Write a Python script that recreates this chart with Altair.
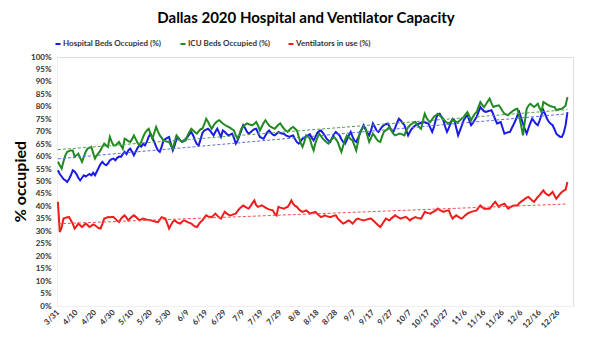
import json
import altair as alt
import pandas as pd

TITLE = "Dallas 2020 Hospital and Ventilator Capacity"
SERIES = ["Hospital Beds Occupied (%)", "ICU Beds Occupied (%)", "Ventilators in use (%)"]
COLORS = ["#1a1ae6", "#208a20", "#f01c1c"]
TREND_COLORS = ["#5a6fe0", "#4f9f4f", "#f05050"]
TICK_LABELS = ["3/31", "4/10", "4/20", "4/30", "5/10", "5/20", "5/30", "6/9", "6/19", "6/29",
               "7/9", "7/19", "7/29", "8/8", "8/18", "8/28", "9/7", "9/17", "9/27", "10/7",
               "10/17", "10/27", "11/6", "11/16", "11/26", "12/6", "12/16", "12/26"]
Y_TICKS = list(range(0, 101, 5))

# daily values, 3/31 .. 12/31
HOSPITAL = [
    54.5, 53, 52, 51, 50.5, 49.8, 51, 52.5, 54.5, 54,
    53, 51.5, 50.5, 51.5, 52.5, 52, 52.5, 53, 52.5, 53.5,
    52.5, 54, 55.5, 57, 57.9, 57, 56.5, 57.2, 58.5, 59,
    59.2, 58.5, 59.5, 60, 59.9, 61, 61.9, 61, 62.5, 63.2,
    62, 60.5, 62, 63.5, 64.5, 64, 65.2, 64.5, 66, 68,
    69.2, 67.5, 65.9, 64, 62.5, 61.9, 64, 66.5, 67, 67.5,
    67.9, 65, 62.5, 64.5, 67.2, 67.5, 66.5, 65.9, 66.5, 67.2,
    67.9, 69, 69.9, 68.5, 66.5, 65, 64.5, 67, 69.5, 70.5,
    70.8, 71.2, 70.5, 69.5, 68.5, 70, 71.2, 69.5, 67.9, 70.5,
    70, 69.2, 68.5, 68.8, 69.2, 67.5, 65.2, 66.5, 68.5, 70.5,
    72.6, 71.5, 70, 69.2, 69.8, 70.5, 71, 71.2, 69.5, 67.9,
    67.5, 67.2, 68.5, 69.8, 70.5, 69.5, 68.8, 68.5, 69.2, 69.9,
    69.5, 69.3, 69.2, 68.5, 68.2, 67.9, 68.3, 68.5, 67, 65.8,
    65.2, 66.2, 67.2, 67.5, 68.2, 68.5, 69, 67.5, 66.5, 67.9,
    69.5, 70.2, 70.5, 69.5, 68.5, 67.2, 66.5, 65.9, 67.5, 69,
    69.9, 69.2, 68.5, 67, 65.8, 65.2, 66.8, 68.5, 69.9, 68,
    66.5, 65.9, 67.5, 69.2, 71, 72.6, 71, 69.5, 68.5, 70.5,
    73.3, 72, 70.5, 69.9, 71, 72, 72.6, 73, 73.3, 72,
    70.5, 69.9, 71.5, 73.5, 75.2, 74.5, 73.5, 72.6, 70.5, 68.5,
    70, 71.2, 71.9, 72.6, 73, 73.3, 73.6, 73.9, 73.8, 73.5,
    73.3, 71.5, 69.9, 72, 75, 77, 77.2, 76, 74.6, 72,
    69.9, 71.5, 73.5, 75.2, 74.6, 71.5, 68.5, 70.5, 72.5, 74.6,
    75.8, 76.6, 74.5, 72.6, 73.5, 74.8, 75.9, 78, 79.9, 79,
    78.2, 77.9, 78.2, 78.4, 78.6, 77, 75, 73.3, 73.6, 73.9,
    71.5, 69.2, 69.5, 69.8, 69.9, 71.5, 73, 74.6, 76.5, 77.9,
    75.5, 73.3, 71, 69.2, 71.5, 73.5, 75.2, 74.2, 73.2, 72.6,
    74.5, 76.8, 78.6, 77, 75.2, 73.9, 73.2, 72.6, 71, 69.2,
    68.5, 68, 67.9, 69.5, 72.6, 77.9,
]
ICU = [
    57.9, 56.5, 55.2, 58, 60.5, 61.9, 62.2, 62.5, 62.5, 59.9,
    60.5, 61.2, 59.5, 57.9, 60, 62, 63.2, 63.5, 63.9, 61.5,
    59.2, 60.5, 61.5, 62.5, 64, 65.2, 64.5, 63.9, 67.9, 66,
    64.5, 64.5, 65.2, 65.9, 64.5, 63.2, 67.2, 66.8, 66.2, 65.9,
    67, 68.5, 67, 65.5, 64.5, 66, 67.9, 69.5, 70.5, 71.2,
    69, 67.2, 69.5, 71.9, 70, 68.5, 67.5, 66.5, 66.2, 66,
    65.9, 64.5, 63.2, 66, 68.5, 67.5, 66.5, 65.9, 66.2, 66.5,
    68.5, 70, 71.2, 70.5, 69.8, 69.2, 70.2, 71, 71.2, 73,
    75.2, 74, 72.5, 71.2, 72.5, 73.5, 74.2, 74.6, 74, 73.3,
    72.8, 72.3, 71.9, 71.5, 71, 70.5, 68.5, 67.2, 69, 71.2,
    72, 72.8, 73.3, 73, 72.8, 72.6, 73.2, 73.9, 72.5, 70.5,
    72, 73.5, 74.6, 73.5, 72.5, 71.9, 71.5, 71.2, 72, 72.8,
    73.3, 72.2, 71.2, 70.5, 69.9, 70.8, 71.5, 71.9, 71.2, 70.5,
    68, 65.5, 63.9, 66, 68.5, 68, 67.2, 64.5, 62.5, 65.5,
    67.5, 69.2, 68.2, 67.2, 66.5, 65.8, 65.2, 66.3, 67.2, 67.9,
    67, 65.9, 63.8, 61.9, 64.5, 66.8, 68.5, 67.8, 67, 66.5,
    64.5, 62.5, 66, 69.9, 71, 71.9, 71.5, 68.5, 65.9, 67.5,
    69.2, 68.2, 67, 66.2, 65.9, 68.2, 70, 70.5, 71.2, 71.9,
    70.5, 69.2, 68.5, 68.8, 69.2, 69.2, 68.8, 68.5, 70.5, 71.8,
    72.6, 73.2, 73.6, 73.9, 72.8, 71.8, 71.2, 74.5, 77.2, 75.5,
    74.5, 73.9, 75, 76, 76.6, 77.2, 76.5, 75.9, 75.2, 74.2,
    73.6, 73.3, 74, 74.6, 74.3, 74, 73.9, 74.6, 75.3, 75.9,
    77, 77.9, 76.2, 74.6, 76, 77.2, 77.9, 80, 81.9, 80.8,
    79.9, 81, 82.2, 83.3, 81.5, 79.9, 80.2, 80.4, 80.6, 79.5,
    78.2, 77.2, 76.9, 76.6, 77.4, 78, 78.6, 79, 79.2, 76,
    72.6, 68.5, 74, 79.2, 80.5, 81.2, 80.5, 79.9, 80.5, 81.2,
    79.5, 77.9, 81.9, 81.5, 81, 80.6, 80.2, 80, 79.9, 78.6,
    78.9, 79.1, 79.2, 79.8, 80.4, 83.9,
]
VENT = [
    41.8, 29.7, 31.5, 35.1, 35.4, 35.6, 35.7, 34.4, 33.1, 31.1,
    32, 33.1, 32.4, 31.7, 32.4, 33.1, 32.5, 31.7, 32.2, 32.8,
    32.4, 31.8, 31.3, 31.1, 33, 35.1, 35.4, 35.7, 35.6, 35.7,
    35.7, 35, 34.2, 33.7, 35, 35.8, 36.4, 35.5, 34.4, 35.2,
    35.9, 36.4, 35.8, 35.1, 34.4, 34.8, 35.1, 34.9, 34.7, 34.5,
    34.4, 34.2, 34, 33.8, 33.7, 34.7, 35.7, 35.4, 35.1, 33.2,
    31.1, 32.5, 33.8, 34.4, 33.8, 33.3, 33.1, 33.8, 34.4, 34.1,
    33.7, 33.4, 33.1, 32.4, 31.9, 31.7, 32.8, 33.8, 34.4, 35.5,
    36.4, 36, 35.8, 35.7, 36.4, 37.1, 36.3, 35.6, 35.1, 36.5,
    37.8, 37.2, 36.7, 36.4, 36.6, 36.9, 37.1, 38.2, 39.1, 39.8,
    40.4, 39.9, 39.4, 39.1, 40.2, 41.3, 42.4, 40.5, 39.8, 40.1,
    40.4, 40, 39.5, 39.1, 38.8, 38.6, 38.4, 37, 36.4, 39.8,
    39.5, 39.3, 39.1, 39.5, 39.8, 41, 42.4, 41, 40.2, 39.8,
    38.8, 38.2, 37.8, 38.1, 38.4, 37.8, 37.1, 37.4, 37.6, 37.8,
    37, 36.3, 35.7, 36, 36.4, 36.1, 35.9, 35.7, 36, 36.3,
    36.4, 35.2, 34.4, 33.7, 33.1, 33.5, 34, 34.4, 33.8, 33.1,
    33.9, 34.8, 35.1, 34.8, 34.6, 34.4, 34.6, 34.8, 35, 35.1,
    34.4, 33.7, 33, 32.3, 31.7, 32.8, 34, 35.1, 34.7, 34.4,
    35.2, 35.8, 36.4, 35.9, 35.5, 35.1, 35.4, 35.6, 35.7, 35,
    34.4, 35, 35.4, 35.7, 35.4, 35.2, 35.1, 36.4, 37.8, 37.5,
    37.3, 37.1, 37.6, 38, 38.4, 39.1, 38.6, 38.2, 37.8, 38.1,
    38.3, 38.4, 36.5, 35.1, 35.8, 36.4, 35.9, 35.4, 35.1, 35.8,
    36.5, 37.1, 37.5, 37.8, 38, 38.2, 38.4, 39.5, 40.4, 39.7,
    39.1, 39.1, 39.1, 39.1, 40, 41, 41.8, 40.8, 39.8, 40.5,
    40.8, 41.1, 40.1, 39.1, 39.6, 40, 40.4, 40.4, 40.4, 41.3,
    41.9, 42.4, 43, 43.5, 43.8, 43.1, 42.4, 41.8, 42.8, 43.8,
    44.5, 45.5, 46.4, 45.4, 44.8, 44.4, 45.1, 45.8, 44.4, 43.1,
    44, 45, 45.8, 46.3, 46.7, 49.8,
]

rows = []
for name, vals in zip(SERIES, [HOSPITAL, ICU, VENT]):
    for i, v in enumerate(vals):
        rows.append({"day": i, "series": name, "value": v})
df = pd.DataFrame(rows)

FONT = "Lato"
label_expr = json.dumps(TICK_LABELS) + "[round(datum.value / 10)]"

x_enc = alt.X(
    "day:Q",
    scale=alt.Scale(domain=[-0.5, 278], nice=False, zero=False),
    axis=alt.Axis(
        values=list(range(0, 10 * len(TICK_LABELS), 10)),
        labelExpr=label_expr,
        labelAngle=-45,
        labelAlign="right",
        labelBaseline="middle",
        labelFontSize=8,
        labelFontWeight="bold",
        labelColor="#333333",
        labelPadding=5,
        labelFont=FONT,
        ticks=False,
        grid=False,
        domainColor="#eeeeee",
        title=None,
        labelOverlap=False,
    ),
)
y_enc = alt.Y(
    "value:Q",
    scale=alt.Scale(domain=[0, 100], nice=False),
    axis=alt.Axis(
        values=Y_TICKS,
        labelExpr="datum.value + '%'",
        labelFontSize=8,
        labelFontWeight="bold",
        labelColor="#333333",
        labelFont=FONT,
        labelPadding=6,
        ticks=False,
        grid=False,
        domainColor="#eeeeee",
        title="% occupied",
        titleFont=FONT,
        titleFontSize=16,
        titleFontWeight="bold",
        titleColor="black",
        titleX=-37,
        titleY=124,
        titleAngle=270,
        titleAlign="center",
        titleBaseline="middle",
        labelOverlap=False,
    ),
)

color_scale = alt.Scale(domain=SERIES, range=COLORS)

lines = alt.Chart(df).mark_line(strokeWidth=2).encode(
    x=x_enc,
    y=y_enc,
    color=alt.Color(
        "series:N",
        scale=color_scale,
        sort=SERIES,
        legend=alt.Legend(
            orient="none",
            legendX=-3,
            legendY=-17,
            direction="horizontal",
            title=None,
            symbolType="stroke",
            symbolSize=25,
            symbolStrokeWidth=2,
            labelFontSize=8,
            labelFontWeight="bold",
            labelFont=FONT,
            labelColor="#333333",
            columnPadding=14,
            labelOffset=1,
        ),
    ),
)

trend = (
    alt.Chart(df)
    .transform_regression("day", "value", groupby=["series"])
    .mark_line(strokeWidth=1, strokeDash=[3, 2])
    .encode(
        x=x_enc,
        y=y_enc,
        color=alt.Color("series:N", scale=alt.Scale(domain=SERIES, range=TREND_COLORS), legend=None),
    )
)

chart = (
    alt.layer(lines, trend)
    .resolve_scale(color="independent")
    .properties(
        width=516,
        height=249,
        autosize=alt.AutoSizeParams(type="none"),
        padding={"left": 57, "top": 57, "right": 17, "bottom": 34},
        title=alt.TitleParams(
            TITLE,
            fontSize=15,
            fontWeight="bold",
            font=FONT,
            color="black",
            anchor="middle",
            frame="group",
            offset=14,
            dx=-9,
        ),
    )
    .configure_view(stroke=None)
    .configure(background="white")
)

chart.save("out.html", embed_options={"renderer": "svg", "actions": False})
